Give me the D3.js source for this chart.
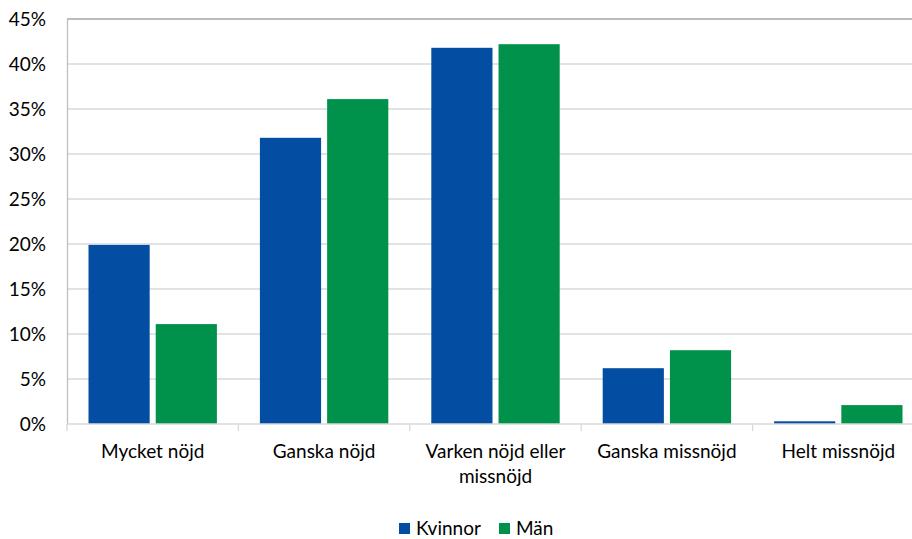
<!DOCTYPE html>
<html>
<head>
<meta charset="utf-8">
<script src="https://cdn.jsdelivr.net/npm/d3@7"></script>
<style>
  html, body { margin: 0; padding: 0; background: #fff; }
  svg { display: block; font-family: Lato, "Noto Sans", sans-serif; }
</style>
</head>
<body>
<svg id="chart" width="912" height="539"></svg>
<script>
const categories = ["Mycket nöjd", "Ganska nöjd", "Varken nöjd eller missnöjd", "Ganska missnöjd", "Helt missnöjd"];
const categoryLines = [["Mycket nöjd"], ["Ganska nöjd"], ["Varken nöjd eller", "missnöjd"], ["Ganska missnöjd"], ["Helt missnöjd"]];
const seriesNames = ["Kvinnor", "Män"];
const kvinnor = [19.9, 31.8, 41.8, 6.2, 0.3];
const man = [11.1, 36.1, 42.2, 8.2, 2.1];
const yTicks = [0, 5, 10, 15, 20, 25, 30, 35, 40, 45];
const colors = ["#034EA2", "#00924A"];

const svg = d3.select("#chart");
const plotLeft = 67, plotTop = 19, plotBottom = 424, plotRight = 924;
const fontSize = 19;

const x0 = d3.scaleBand().domain(categories).range([plotLeft, plotRight]).padding(0);
const x1 = d3.scaleBand().domain(seriesNames).range([21.5, x0.bandwidth() - 21.5]).paddingInner(0.09).paddingOuter(0);
const y = d3.scaleLinear().domain([0, 45]).range([plotBottom, plotTop]);

// gridlines
svg.append("g").selectAll("line").data(yTicks.filter(t => t > 0)).join("line")
  .attr("x1", plotLeft).attr("x2", plotRight)
  .attr("y1", d => y(d)).attr("y2", d => y(d))
  .attr("stroke", d => d === 45 ? "#a6a6a6" : "#d9d9d9")
  .attr("stroke-width", 1.3);

// y axis
const yAxis = d3.axisLeft(y).tickValues(yTicks).tickFormat(d => d + "%").tickSize(0).tickPadding(21);
const gy = svg.append("g").attr("transform", `translate(${plotLeft},0)`).call(yAxis);
gy.select(".domain").attr("stroke", "#bfbfbf").attr("stroke-width", 1.3);
gy.selectAll("text").attr("font-size", fontSize).attr("fill", "#000").attr("font-family", "Lato, sans-serif");

// bars
const data = categories.map((c, i) => ({ cat: c, vals: [kvinnor[i], man[i]] }));
const groups = svg.append("g").selectAll("g").data(data).join("g")
  .attr("transform", d => `translate(${x0(d.cat)},0)`);
groups.selectAll("rect").data(d => d.vals.map((v, j) => ({ key: seriesNames[j], v, j })))
  .join("rect")
  .attr("x", d => x1(d.key))
  .attr("width", x1.bandwidth())
  .attr("y", d => y(d.v))
  .attr("height", d => y(0) - y(d.v))
  .attr("fill", d => colors[d.j]);

// x axis
const gx = svg.append("g").attr("transform", `translate(0,${plotBottom})`);
gx.append("line").attr("x1", plotLeft).attr("x2", plotRight).attr("y1", 0).attr("y2", 0)
  .attr("stroke", "#d9d9d9").attr("stroke-width", 1.3);
const bounds = categories.map(c => x0(c)).concat([x0(categories[categories.length - 1]) + x0.bandwidth()]);
gx.selectAll("line.tick").data(bounds).join("line").attr("class", "tick")
  .attr("x1", d => d).attr("x2", d => d).attr("y1", 0).attr("y2", 7)
  .attr("stroke", "#d9d9d9").attr("stroke-width", 1.3);
const labels = gx.selectAll("text.cat").data(categories).join("text").attr("class", "cat")
  .attr("x", d => x0(d) + x0.bandwidth() / 2)
  .attr("y", 34)
  .attr("text-anchor", "middle")
  .attr("font-size", fontSize)
  .attr("fill", "#000");
labels.each(function(d, i) {
  const t = d3.select(this);
  categoryLines[i].forEach((line, k) => {
    t.append("tspan").attr("x", x0(d) + x0.bandwidth() / 2).attr("dy", k === 0 ? 0 : 25).text(line);
  });
});

// legend
const legend = svg.append("g");
const legendX = [399, 499];
seriesNames.forEach((s, j) => {
  legend.append("rect").attr("x", legendX[j]).attr("y", 523).attr("width", 11).attr("height", 11).attr("fill", colors[j]);
  legend.append("text").attr("x", legendX[j] + 17).attr("y", 535).attr("font-size", fontSize).attr("fill", "#000").text(s);
});
</script>
</body>
</html>
